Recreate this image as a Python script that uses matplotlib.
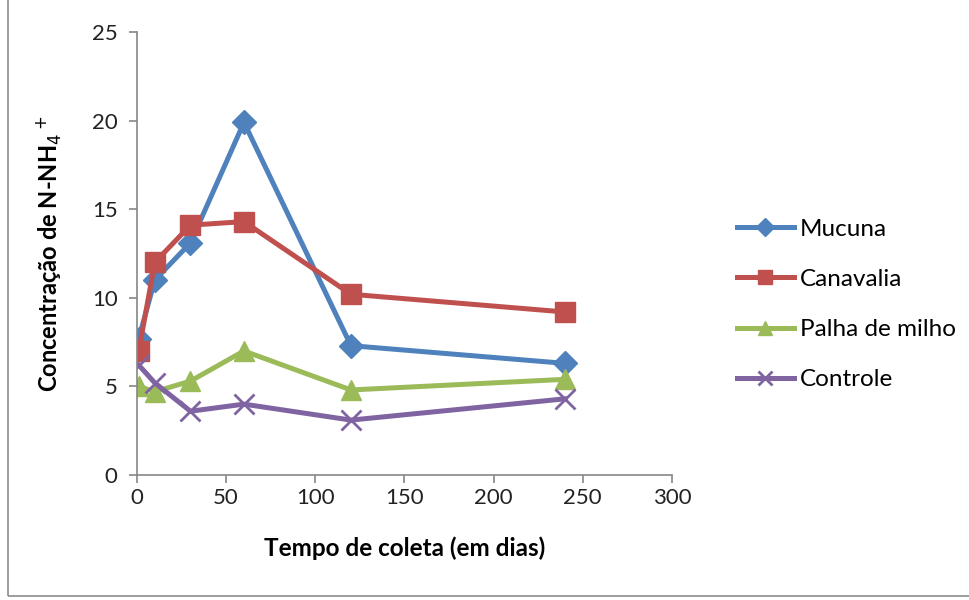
import matplotlib.pyplot as plt
from matplotlib.patches import Rectangle

# Sampling days and N-NH4+ concentration per treatment
dias = [1, 10, 30, 60, 120, 240]
mucuna = [7.7, 11.0, 13.1, 19.9, 7.3, 6.3]
canavalia = [7.0, 12.0, 14.1, 14.3, 10.2, 9.2]
palha_milho = [5.0, 4.7, 5.3, 7.0, 4.8, 5.4]
controle = [6.2, 5.2, 3.6, 4.0, 3.1, 4.3]

plt.rcParams['font.family'] = ['Lato', 'DejaVu Sans']

fig = plt.figure(figsize=(9.7, 6), dpi=100)
ax = fig.add_axes([0.1412, 0.2083, 0.5515, 0.7384])

# thin frame around the whole chart area
fig.patches.append(Rectangle((8 / 970, 4 / 600), 1.2, 1.2, transform=fig.transFigure,
                             fill=False, edgecolor='#8c8c8c', linewidth=1.2))

lw = 3.6
ax.plot(dias, mucuna, color='#4F81BD', marker='D', markersize=12, lw=lw, label='Mucuna')
ax.plot(dias, canavalia, color='#C0504D', marker='s', markersize=14, lw=lw, label='Canavalia')
ax.plot(dias, palha_milho, color='#9BBB59', marker='^', markersize=14, lw=lw, label='Palha de milho')
ax.plot(dias, controle, color='#8064A2', marker='x', markersize=14, mew=2, lw=lw, label='Controle')

ax.set_xlim(0, 300)
ax.set_ylim(0, 25)
ax.set_xticks(range(0, 301, 50))
ax.set_yticks(range(0, 26, 5))

for s in ['top', 'right']:
    ax.spines[s].set_visible(False)
for s in ['left', 'bottom']:
    ax.spines[s].set_color('#868686')
    ax.spines[s].set_linewidth(1.2)
ax.tick_params(axis='both', colors='#868686', labelcolor='#222222', labelsize=16, length=6, width=1.2)
ax.tick_params(axis='y', pad=8)

ax.set_xlabel('Tempo de coleta (em dias)', fontsize=17.5, fontweight='bold', labelpad=20)
ax.set_ylabel('Concentração de N-NH$_4$$^+$', fontsize=17, fontweight='bold', labelpad=20)

ax.legend(loc='center left', bbox_to_anchor=(1.08, 0.385), frameon=False, fontsize=17.5,
          handlelength=2.35, labelspacing=1.2, handletextpad=0.25, markerscale=0.75)

fig.savefig('out.png', dpi=100)
